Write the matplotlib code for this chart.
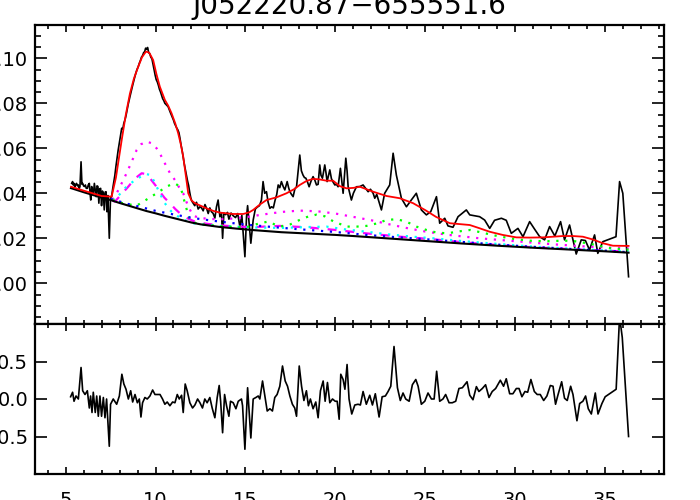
import matplotlib.pyplot as plt
import numpy as np

plt.rcParams['font.family'] = 'DejaVu Sans'
plt.rcParams['axes.unicode_minus'] = False

TITLE = 'J052220.87\u2212655551.6'

# --- observed spectrum (wavelength [um], flux) ---
spec = np.array([
    (5.34, 0.0444), (5.39, 0.0452), (5.43, 0.0437), (5.47, 0.0444), (5.52, 0.0430),
    (5.57, 0.0440), (5.61, 0.0444), (5.66, 0.0433), (5.71, 0.0437), (5.76, 0.0422),
    (5.80, 0.0430), (5.86, 0.0540), (5.91, 0.0440), (5.95, 0.0444), (6.00, 0.0433),
    (6.05, 0.0430), (6.10, 0.0437), (6.15, 0.0422), (6.21, 0.0422), (6.26, 0.0437),
    (6.32, 0.0444), (6.36, 0.0400), (6.40, 0.0370), (6.45, 0.0430), (6.50, 0.0410),
    (6.55, 0.0400), (6.60, 0.0444), (6.65, 0.0415), (6.70, 0.0385), (6.75, 0.0433),
    (6.80, 0.0430), (6.85, 0.0356), (6.90, 0.0420), (6.95, 0.0422), (7.00, 0.0345),
    (7.05, 0.0410), (7.10, 0.0400), (7.15, 0.0326), (7.20, 0.0405), (7.25, 0.0407),
    (7.30, 0.0318), (7.35, 0.0390), (7.43, 0.0200), (7.50, 0.0385), (7.56, 0.0385),
    (7.62, 0.0420), (7.68, 0.0450), (7.74, 0.0480), (7.80, 0.0520), (7.86, 0.0555),
    (7.92, 0.0590), (7.98, 0.0620), (8.05, 0.0655), (8.12, 0.0689), (8.18, 0.0685),
    (8.24, 0.0712), (8.30, 0.0726), (8.36, 0.0745), (8.42, 0.0770), (8.48, 0.0795),
    (8.55, 0.0820), (8.61, 0.0840), (8.67, 0.0859), (8.73, 0.0880), (8.79, 0.0900),
    (8.85, 0.0918), (8.91, 0.0935), (8.97, 0.0950), (9.04, 0.0963), (9.10, 0.0978),
    (9.16, 0.0990), (9.22, 0.1005), (9.28, 0.1012), (9.34, 0.1025), (9.40, 0.1030),
    (9.45, 0.1045), (9.50, 0.1040), (9.56, 0.1048), (9.62, 0.1025), (9.68, 0.1020),
    (9.74, 0.1005), (9.80, 0.0998), (9.86, 0.0975), (9.92, 0.0950), (9.98, 0.0925),
    (10.04, 0.0905), (10.10, 0.0895), (10.16, 0.0880), (10.22, 0.0862), (10.28, 0.0850),
    (10.34, 0.0835), (10.40, 0.0820), (10.46, 0.0812), (10.52, 0.0800), (10.58, 0.0795),
    (10.64, 0.0790), (10.70, 0.0785), (10.76, 0.0772), (10.82, 0.0760), (10.88, 0.0748),
    (10.94, 0.0735), (11.00, 0.0725), (11.06, 0.0710), (11.12, 0.0700), (11.18, 0.0690),
    (11.24, 0.0682), (11.30, 0.0670), (11.36, 0.0645), (11.42, 0.0615), (11.48, 0.0590),
    (11.54, 0.0560), (11.60, 0.0530), (11.66, 0.0505), (11.72, 0.0480), (11.78, 0.0455),
    (11.84, 0.0435), (11.90, 0.0405), (11.96, 0.0380), (12.02, 0.0365), (12.09, 0.0356),
    (12.18, 0.0345), (12.28, 0.0360), (12.37, 0.0330), (12.47, 0.0340), (12.56, 0.0335),
    (12.65, 0.0322), (12.75, 0.0350), (12.84, 0.0333), (12.93, 0.0310), (13.02, 0.0335),
    (13.11, 0.0318), (13.20, 0.0311), (13.30, 0.0290), (13.39, 0.0340), (13.48, 0.0370),
    (13.58, 0.0296), (13.67, 0.0310), (13.73, 0.0200), (13.80, 0.0312), (13.90, 0.0305),
    (14.00, 0.0315), (14.08, 0.0285), (14.20, 0.0312), (14.32, 0.0300), (14.45, 0.0292),
    (14.57, 0.0310), (14.69, 0.0252), (14.80, 0.0302), (14.97, 0.0118), (15.06, 0.0296),
    (15.12, 0.0345), (15.18, 0.0290), (15.30, 0.0178), (15.43, 0.0281), (15.55, 0.0330),
    (15.65, 0.0338), (15.78, 0.0345), (15.89, 0.0370), (15.98, 0.0452), (16.07, 0.0400),
    (16.17, 0.0407), (16.26, 0.0360), (16.36, 0.0333), (16.45, 0.0340), (16.55, 0.0335),
    (16.65, 0.0370), (16.74, 0.0395), (16.82, 0.0437), (16.91, 0.0425), (17.00, 0.0452),
    (17.10, 0.0430), (17.19, 0.0415), (17.32, 0.0452), (17.40, 0.0425), (17.47, 0.0407),
    (17.56, 0.0395), (17.65, 0.0385), (17.75, 0.0420), (17.84, 0.0429), (18.02, 0.0570),
    (18.11, 0.0500), (18.20, 0.0481), (18.28, 0.0470), (18.36, 0.0467), (18.45, 0.0450),
    (18.54, 0.0429), (18.65, 0.0455), (18.76, 0.0474), (18.85, 0.0460), (18.95, 0.0437),
    (19.04, 0.0440), (19.13, 0.0526), (19.20, 0.0480), (19.28, 0.0467), (19.35, 0.0500),
    (19.41, 0.0526), (19.48, 0.0490), (19.54, 0.0452), (19.62, 0.0480), (19.69, 0.0504),
    (19.78, 0.0465), (19.87, 0.0450), (19.97, 0.0437), (20.06, 0.0440), (20.15, 0.0429),
    (20.28, 0.0511), (20.36, 0.0450), (20.43, 0.0400), (20.50, 0.0470), (20.58, 0.0556),
    (20.65, 0.0500), (20.71, 0.0429), (20.80, 0.0400), (20.89, 0.0370), (21.00, 0.0400),
    (21.17, 0.0429), (21.36, 0.0430), (21.54, 0.0437), (21.70, 0.0420), (21.82, 0.0407),
    (21.95, 0.0418), (22.10, 0.0400), (22.19, 0.0378), (22.30, 0.0395), (22.43, 0.0360),
    (22.56, 0.0326), (22.74, 0.0400), (23.02, 0.0437), (23.21, 0.0578), (23.39, 0.0481),
    (23.67, 0.0378), (23.95, 0.0340), (24.22, 0.0370), (24.50, 0.0400), (24.78, 0.0326),
    (25.06, 0.0304), (25.30, 0.0318), (25.62, 0.0385), (25.80, 0.0267), (26.08, 0.0289),
    (26.26, 0.0255), (26.54, 0.0249), (26.82, 0.0296), (27.28, 0.0326), (27.47, 0.0304),
    (27.75, 0.0300), (28.02, 0.0296), (28.30, 0.0281), (28.58, 0.0244), (28.85, 0.0280),
    (29.23, 0.0289), (29.50, 0.0280), (29.78, 0.0222), (30.15, 0.0244), (30.43, 0.0207),
    (30.80, 0.0274), (31.08, 0.0240), (31.36, 0.0207), (31.63, 0.0193), (31.91, 0.0252),
    (32.20, 0.0210), (32.52, 0.0274), (32.74, 0.0193), (33.02, 0.0259), (33.39, 0.0130),
    (33.67, 0.0193), (33.90, 0.0190), (34.13, 0.0148), (34.41, 0.0215), (34.59, 0.0133),
    (34.87, 0.0185), (35.20, 0.0195), (35.60, 0.0207), (35.80, 0.0452), (35.98, 0.0400),
    (36.30, 0.0029),
])

# --- total model fit ---
fit_wave = [5.3, 6.0, 6.5, 7.0, 7.56, 7.8, 8.12, 8.35, 8.58, 8.8, 9.04, 9.25, 9.47, 9.65,
            9.87, 10.05, 10.24, 10.52, 10.7, 10.89, 11.1, 11.26, 11.4, 11.54, 11.7, 11.82,
            12.0, 12.19, 12.5, 12.84, 13.2, 13.58, 14.32, 14.87, 15.2, 15.43, 15.8, 16.17,
            16.73, 17.28, 17.7, 18.02, 18.4, 18.76, 19.1, 19.5, 19.87, 20.24, 20.62, 21.0,
            21.36, 22.1, 22.84, 23.58, 24.32, 25.0, 25.6, 26.36, 27.47, 28.0, 28.58, 29.3,
            30.06, 30.8, 31.54, 32.1, 32.65, 33.2, 33.76, 34.3, 34.87, 35.43, 36.3]
fit_flux = [0.0429, 0.0412, 0.0400, 0.0388, 0.0385, 0.0470, 0.0637, 0.0750, 0.0844, 0.0910,
            0.0963, 0.1005, 0.1030, 0.1025, 0.0992, 0.0930, 0.0874, 0.0815, 0.0790, 0.0756,
            0.0710, 0.0667, 0.0620, 0.0563, 0.0470, 0.0400, 0.0368, 0.0356, 0.0345, 0.0333,
            0.0322, 0.0314, 0.0308, 0.0308, 0.0315, 0.0326, 0.0350, 0.0370, 0.0382, 0.0400,
            0.0418, 0.0437, 0.0455, 0.0464, 0.0462, 0.0456, 0.0456, 0.0432, 0.0422, 0.0424,
            0.0429, 0.0407, 0.0388, 0.0378, 0.0356, 0.0325, 0.0295, 0.0267, 0.0259, 0.0245,
            0.0229, 0.0215, 0.0204, 0.0203, 0.0204, 0.0207, 0.0210, 0.0210, 0.0207, 0.0195,
            0.0178, 0.0167, 0.0166]

# --- continuum ---
cont_wave = [5.3, 6.0, 6.5, 7.0, 7.5, 8.0, 8.5, 9.0, 9.5, 10.0, 10.5, 11.0, 11.5, 12.0, 12.5,
             13.5, 14.5, 15.5, 17.0, 18.0, 19.0, 20.0, 21.0, 23.0, 25.0, 27.0, 29.0, 31.0,
             33.0, 35.0, 36.3]
cont_flux = [0.0423, 0.0405, 0.0393, 0.0381, 0.0370, 0.0357, 0.0345, 0.0333, 0.0321, 0.0311,
             0.0300, 0.0290, 0.0280, 0.0270, 0.0262, 0.0251, 0.0243, 0.0236, 0.0227, 0.0223,
             0.0219, 0.0215, 0.0210, 0.0199, 0.0188, 0.0177, 0.0167, 0.0158, 0.0150, 0.0142,
             0.0136]

# --- dust components (each on top of the continuum) ---
magdot_wave = [7.6, 7.74, 8.0, 8.39, 8.7, 8.95, 9.2, 9.5, 9.8, 10.06, 10.3, 10.52, 10.8, 11.08,
               11.3, 11.54, 11.8, 12.09, 12.5, 13.0, 13.6, 14.3, 15.2, 16.0, 17.0, 18.0, 19.0,
               20.0, 21.0, 22.0, 23.0, 24.0, 25.0, 26.3, 28.0, 30.0, 32.0, 34.0, 36.3]
magdot_flux = [0.0372, 0.0385, 0.0425, 0.0489, 0.0545, 0.0592, 0.0618, 0.0630, 0.0622, 0.0600,
               0.0568, 0.0533, 0.0490, 0.0459, 0.0428, 0.0400, 0.0345, 0.0300, 0.0290, 0.0286,
               0.0284, 0.0288, 0.0296, 0.0306, 0.0317, 0.0323, 0.0320, 0.0310, 0.0295, 0.0280,
               0.0262, 0.0245, 0.0230, 0.0215, 0.0200, 0.0187, 0.0174, 0.0163, 0.0155]

magdash_wave = [7.6, 7.74, 8.1, 8.48, 8.85, 9.23, 9.5, 9.69, 10.0, 10.24, 10.5, 10.8, 11.1,
                11.45, 11.8, 12.19, 12.8, 13.5, 14.5, 15.5, 16.9, 18.4, 20.0, 21.7, 23.6, 25.4,
                27.1, 29.0, 31.0, 33.0, 35.0, 36.3]
magdash_flux = [0.0368, 0.0363, 0.0395, 0.0429, 0.0465, 0.0489, 0.0485, 0.0467, 0.0435, 0.0407,
                0.0380, 0.0356, 0.0330, 0.0304, 0.0288, 0.0274, 0.0265, 0.0258, 0.0252, 0.0250,
                0.0255, 0.0249, 0.0237, 0.0222, 0.0207, 0.0196, 0.0182, 0.0170, 0.0160, 0.0152,
                0.0145, 0.0141]

cyan_wave = [7.6, 7.74, 8.0, 8.39, 8.8, 9.2, 9.5, 9.75, 10.06, 10.3, 10.52, 10.75, 10.98, 11.5,
             12.09, 12.5, 13.5, 14.32, 15.5, 17.0, 18.5, 19.5, 20.5, 21.73, 23.0, 24.3, 25.43,
             27.0, 29.0, 31.0, 33.0, 35.0, 36.3]
cyan_flux = [0.0372, 0.0370, 0.0395, 0.0430, 0.0455, 0.0475, 0.0485, 0.0481, 0.0430, 0.0390,
             0.0356, 0.0330, 0.0311, 0.0285, 0.0267, 0.0262, 0.0255, 0.0252, 0.0248, 0.0246,
             0.0250, 0.0252, 0.0240, 0.0229, 0.0217, 0.0207, 0.0200, 0.0188, 0.0175, 0.0163,
             0.0154, 0.0146, 0.0142]

green_wave = [7.6, 8.2, 8.95, 9.5, 10.06, 10.4, 10.62, 10.85, 11.08, 11.35, 11.5, 11.63, 11.91,
              12.3, 13.0, 14.0, 15.0, 15.8, 16.26, 16.91, 17.5, 18.0, 18.5, 18.95, 19.4, 19.87,
              20.62, 21.2, 21.73, 22.3, 22.84, 23.39, 23.95, 24.5, 25.06, 25.6, 26.2, 27.0,
              27.5, 28.0, 29.0, 30.0, 31.0, 32.0, 32.65, 33.3, 34.0, 34.6, 35.06, 35.6, 36.3]
green_flux = [0.0372, 0.0355, 0.0345, 0.0372, 0.0400, 0.0418, 0.0430, 0.0438, 0.0444, 0.0430,
              0.0400, 0.0356, 0.0281, 0.0265, 0.0258, 0.0252, 0.0248, 0.0267, 0.0274, 0.0252,
              0.0262, 0.0281, 0.0297, 0.0305, 0.0298, 0.0276, 0.0252, 0.0252, 0.0255, 0.0266,
              0.0281, 0.0285, 0.0274, 0.0252, 0.0237, 0.0226, 0.0222, 0.0232, 0.0237, 0.0228,
              0.0210, 0.0196, 0.0188, 0.0187, 0.0190, 0.0187, 0.0178, 0.0168, 0.0158, 0.0153,
              0.0150]

blue_wave = [7.5, 8.5, 9.13, 10.0, 10.24, 11.0, 12.09, 13.0, 14.0, 15.0, 16.5, 18.0, 20.0, 21.73,
             23.0, 25.0, 27.0, 29.0, 31.0, 33.0, 35.0, 36.3]
blue_flux = [0.0375, 0.0352, 0.0340, 0.0322, 0.0318, 0.0306, 0.0290, 0.0280, 0.0270, 0.0261,
             0.0250, 0.0240, 0.0228, 0.0215, 0.0207, 0.0196, 0.0184, 0.0172, 0.0162, 0.0153,
             0.0145, 0.0138]

# --- residuals (lower panel) ---
resid = np.array([
    (5.28, 0.03), (5.39, 0.09), (5.47, -0.03), (5.58, 0.04), (5.71, 0.0), (5.86, 0.42),
    (5.95, 0.11), (6.08, 0.06), (6.21, 0.11), (6.32, -0.12), (6.39, 0.04), (6.47, -0.18),
    (6.54, 0.09), (6.65, -0.18), (6.73, 0.04), (6.82, -0.23), (6.91, 0.04), (7.00, -0.23),
    (7.10, 0.02), (7.19, -0.25), (7.28, 0.0), (7.43, -0.63), (7.50, -0.07), (7.65, 0.0),
    (7.84, -0.07), (7.99, 0.04), (8.13, 0.33), (8.24, 0.20), (8.36, 0.13), (8.49, 0.0),
    (8.62, 0.11), (8.73, -0.04), (8.86, 0.06), (8.99, -0.05), (9.10, 0.0), (9.19, -0.24),
    (9.28, -0.05), (9.41, 0.02), (9.54, 0.0), (9.69, 0.04), (9.84, 0.12), (9.97, 0.06),
    (10.10, 0.06), (10.25, 0.06), (10.39, 0.0), (10.52, -0.07), (10.65, -0.04), (10.80, -0.09),
    (10.95, -0.04), (11.08, -0.05), (11.21, 0.06), (11.32, 0.0), (11.45, 0.05), (11.54, -0.18),
    (11.65, 0.20), (11.76, 0.11), (11.91, -0.05), (12.06, -0.12), (12.19, -0.08), (12.34, 0.0),
    (12.47, -0.05), (12.61, -0.12), (12.74, 0.0), (12.87, -0.05), (13.02, 0.02), (13.15, -0.12),
    (13.30, -0.25), (13.43, 0.02), (13.54, 0.18), (13.62, -0.03), (13.73, -0.45), (13.84, 0.06),
    (13.95, -0.09), (14.08, -0.23), (14.17, -0.03), (14.32, -0.05), (14.47, -0.13), (14.60, -0.03),
    (14.78, 0.0), (14.84, -0.09), (14.97, -0.67), (15.12, 0.15), (15.30, -0.52), (15.43, 0.0),
    (15.58, 0.02), (15.71, 0.04), (15.80, 0.0), (15.95, 0.24), (16.08, 0.04), (16.21, -0.16),
    (16.36, -0.13), (16.50, -0.16), (16.63, 0.02), (16.76, 0.06), (16.91, 0.17), (17.06, 0.44),
    (17.21, 0.24), (17.34, 0.17), (17.47, 0.04), (17.61, -0.07), (17.74, -0.12), (17.84, -0.23),
    (17.99, 0.44), (18.12, 0.17), (18.25, -0.02), (18.39, 0.11), (18.50, -0.09), (18.61, 0.0),
    (18.76, -0.13), (18.91, -0.04), (19.04, -0.25), (19.17, 0.11), (19.32, 0.24), (19.43, -0.03),
    (19.56, 0.22), (19.69, -0.05), (19.84, 0.0), (19.99, -0.03), (20.10, -0.03), (20.21, -0.27),
    (20.30, 0.33), (20.43, 0.26), (20.53, 0.13), (20.65, 0.46), (20.76, 0.0), (20.91, -0.20),
    (21.08, -0.08), (21.26, -0.07), (21.39, -0.08), (21.54, 0.10), (21.72, -0.07), (21.91, 0.05),
    (22.06, -0.08), (22.22, 0.07), (22.43, -0.24), (22.60, 0.03), (22.78, 0.04), (22.93, 0.10),
    (23.08, 0.17), (23.26, 0.70), (23.45, 0.15), (23.61, -0.02), (23.76, 0.08), (23.91, 0.0),
    (24.10, -0.03), (24.28, 0.19), (24.47, 0.26), (24.60, 0.17), (24.78, -0.07), (24.97, -0.03),
    (25.15, 0.08), (25.34, 0.0), (25.49, 0.0), (25.63, 0.37), (25.80, -0.03), (25.98, 0.0),
    (26.13, 0.06), (26.32, -0.05), (26.50, -0.05), (26.69, -0.03), (26.87, 0.14), (27.06, 0.15),
    (27.32, 0.23), (27.47, 0.05), (27.65, -0.01), (27.84, 0.165), (27.98, 0.10), (28.17, 0.14),
    (28.35, 0.19), (28.54, 0.02), (28.72, 0.10), (28.91, 0.14), (29.17, 0.25), (29.35, 0.17),
    (29.50, 0.27), (29.69, 0.07), (29.87, 0.07), (30.06, 0.14), (30.21, 0.14), (30.37, 0.03),
    (30.54, 0.10), (30.69, 0.09), (30.87, 0.26), (31.06, 0.10), (31.22, 0.06), (31.39, 0.06),
    (31.58, -0.02), (31.76, 0.04), (31.95, 0.18), (32.10, 0.17), (32.24, -0.07), (32.37, 0.05),
    (32.58, 0.23), (32.74, 0.01), (32.89, -0.02), (33.08, 0.17), (33.21, 0.06), (33.43, -0.29),
    (33.58, -0.06), (33.76, -0.03), (33.91, 0.04), (34.06, -0.13), (34.23, -0.20), (34.45, 0.08),
    (34.60, -0.20), (34.82, -0.06), (35.00, 0.03), (35.61, 0.13), (35.80, 1.10), (35.95, 0.82),
    (36.30, -0.50),
])

DOT = (0, (1, 3))
DASH = (0, (4, 4))

fig = plt.figure(figsize=(7, 5), dpi=100)
ax1 = fig.add_axes([35 / 700, 176 / 500, 629 / 700, 299 / 500])
ax2 = fig.add_axes([35 / 700, 26 / 500, 629 / 700, 150 / 500])

# top panel: spectrum + model
ax1.plot(spec[:, 0], spec[:, 1], color='black', lw=1.2)
ax1.plot(magdot_wave, magdot_flux, color='#ff00ff', lw=1.6, ls=DOT)
ax1.plot(magdash_wave, magdash_flux, color='#ff00ff', lw=1.6, ls=DASH)
ax1.plot(cyan_wave, cyan_flux, color='#00ffff', lw=1.6, ls=DOT)
ax1.plot(green_wave, green_flux, color='#00ff00', lw=1.6, ls=DOT)
ax1.plot(blue_wave, blue_flux, color='#0000ff', lw=1.6, ls=DOT)
ax1.plot(cont_wave, cont_flux, color='black', lw=1.5)
ax1.plot(fit_wave, fit_flux, color='red', lw=1.3)

# bottom panel: residuals
ax2.plot(resid[:, 0], resid[:, 1], color='black', lw=1.2)

for ax in (ax1, ax2):
    ax.set_xlim(3.3, 38.27)
    ax.xaxis.set_major_locator(plt.MultipleLocator(5))
    ax.xaxis.set_minor_locator(plt.MultipleLocator(1))
    ax.tick_params(axis='both', which='both', direction='in', top=True, right=True,
                   width=1.2, labelsize=14, colors='black')
    ax.tick_params(axis='x', which='major', length=5)
    ax.tick_params(axis='x', which='minor', length=3)
    ax.tick_params(axis='y', which='major', length=8.5, pad=5)
    ax.tick_params(axis='y', which='minor', length=4)
    for s in ax.spines.values():
        s.set_linewidth(1.6)

ax1.set_ylim(-0.0181, 0.1148)
ax1.yaxis.set_major_locator(plt.MultipleLocator(0.02))
ax1.yaxis.set_minor_locator(plt.MultipleLocator(0.005))
ax1.yaxis.set_major_formatter(plt.FormatStrFormatter('%.2f'))
ax1.tick_params(axis='x', labelbottom=False)

ax2.set_ylim(-1.0, 1.0)
ax2.set_yticks([-0.5, 0.0, 0.5])
ax2.yaxis.set_minor_locator(plt.NullLocator())
ax2.yaxis.set_major_formatter(plt.FormatStrFormatter('%.1f'))
ax2.tick_params(axis='x', which='major', pad=12)

fig.text((35 + 664) / 2 / 700, (500 - 14) / 500, TITLE, ha='center', va='baseline',
         fontsize=20)

fig.savefig('out.png', dpi=100)
